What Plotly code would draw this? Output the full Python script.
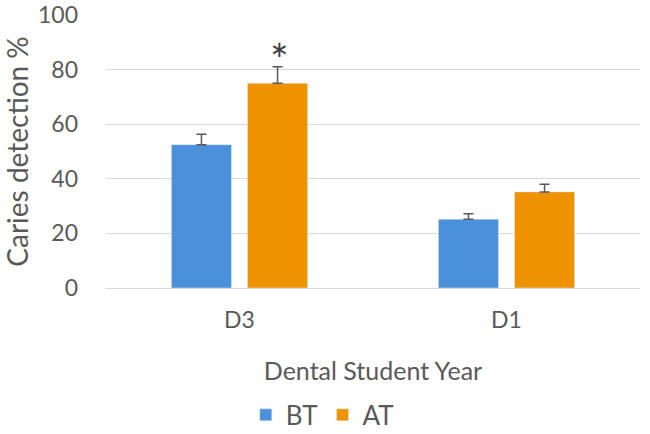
import plotly.graph_objects as go

categories = ["D3", "D1"]
bt_values = [52.5, 25.2]
at_values = [75.0, 35.2]
bt_err = [3.8, 2.0]
at_err = [6.0, 2.8]
y_ticks = [0, 20, 40, 60, 80, 100]

FONT = "Lato, Carlito, Open Sans, sans-serif"
GRAY = "#595959"

fig = go.Figure()
fig.add_trace(go.Bar(
    name="BT", x=categories, y=bt_values, marker_color="#4A90DB",
    error_y=dict(type="data", array=bt_err, arrayminus=[0, 0], symmetric=False,
                 color=GRAY, thickness=1.5, width=5),
))
fig.add_trace(go.Bar(
    name="AT", x=categories, y=at_values, marker_color="#EE9200",
    error_y=dict(type="data", array=at_err, arrayminus=[0, 0], symmetric=False,
                 color=GRAY, thickness=1.5, width=5),
))

fig.add_annotation(x=categories[0], y=at_values[0] + at_err[0], xshift=40, yshift=-20,
                   text="*", showarrow=False, yanchor="bottom",
                   font=dict(size=44, color="#404040", family=FONT))

fig.update_layout(
    width=650, height=434,
    margin=dict(l=106, r=10, t=15, b=146, autoexpand=False),
    paper_bgcolor="white", plot_bgcolor="white",
    barmode="group", bargap=0.43, bargroupgap=0.21,
    font=dict(family=FONT, color=GRAY),
    legend=dict(orientation="h", x=0.405, xanchor="center", y=-0.465, yanchor="middle",
                font=dict(size=26, color=GRAY), itemwidth=30, traceorder="normal"),
    xaxis=dict(showgrid=False, showline=False, ticks="", tickfont=dict(size=23, color=GRAY),
               ticklabelstandoff=16,
               title=dict(text="Dental Student Year", font=dict(size=25, color=GRAY), standoff=30)),
    yaxis=dict(range=[0, 100], tickvals=y_ticks, showgrid=True, gridcolor="#D9D9D9", gridwidth=1,
               zeroline=True, zerolinecolor="#D9D9D9", zerolinewidth=1, showline=False,
               tickfont=dict(size=23, color=GRAY), ticklabelstandoff=27, ticklabeloverflow="allow",
               title=dict(text="Caries detection %", font=dict(size=28, color=GRAY), standoff=14)),
)

fig.write_html("out.html")
